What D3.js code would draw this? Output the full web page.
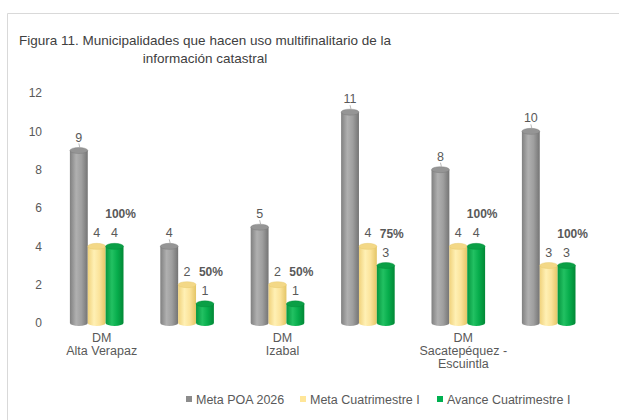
<!DOCTYPE html>
<html><head><meta charset="utf-8">
<script src="https://d3js.org/d3.v7.min.js"></script>
<style>body{margin:0;background:#fff}svg{display:block}</style>
</head><body>
<script>
const categories = ["DM Alta Verapaz", "g2", "DM Izabal", "g4", "DM Sacatepéquez - Escuintla", "g6"];
const categoryLabels = [["DM","Alta Verapaz"], [], ["DM","Izabal"], [], ["DM","Sacatepéquez -","Escuintla"], []];
const seriesNames = ["Meta POA 2026", "Meta Cuatrimestre I", "Avance Cuatrimestre I"];
const metaPOA = [9, 4, 5, 11, 8, 10];
const metaCuatrimestre = [4, 2, 2, 4, 4, 3];
const avanceCuatrimestre = [4, 1, 1, 3, 4, 3];
const percentLabels = ["100%", "50%", "50%", "75%", "100%", "100%"];
const yTicks = [0, 2, 4, 6, 8, 10, 12];

const W = 619, H = 420;
const FONT = "Liberation Sans, Arial, sans-serif";
const svg = d3.select("body").append("svg").attr("width", W).attr("height", H);
const defs = svg.append("defs");
const palettes = [
  {id:"gGray", stops:["#808080","#b0b0b0","#9f9f9f","#747474"], top:"#959595"},
  {id:"gYel", stops:["#f0d27c","#fff0b4","#fbe39a","#e4c566"], top:"#f3d887"},
  {id:"gGrn", stops:["#05963f","#22c162","#07ad4c","#028836"], top:"#0a9f46"}
];
palettes.forEach(p => {
  const lg = defs.append("linearGradient").attr("id", p.id).attr("x1","0").attr("x2","1").attr("y1","0").attr("y2","0");
  [0,0.35,0.65,1].forEach((o,i)=>lg.append("stop").attr("offset",o).attr("stop-color",p.stops[i]));
});

// frame
svg.append("path").attr("d","M7.5,420 V13.5 H619").attr("fill","none").attr("stroke","#d9d9d9").attr("stroke-width",1);

// title
const title = svg.append("text").attr("x",205).attr("y",45).attr("text-anchor","middle")
  .attr("font-family",FONT).attr("font-size",13.5).attr("fill","#404040");
title.append("tspan").attr("x",205).attr("dy",0).text("Figura 11. Municipalidades que hacen uso multifinalitario  de la");
title.append("tspan").attr("x",205).attr("dy",18).text("información catastral");

const x0 = d3.scaleBand().domain(categories).range([51.5, 593.9]).paddingInner(0).paddingOuter(0);
const x1 = d3.scaleBand().domain(seriesNames).range([x0.bandwidth()/2 - 26.8, x0.bandwidth()/2 + 26.8]).padding(0);
const y = d3.scaleLinear().domain([0, 12]).range([323, 93]);

// y axis
const yAxis = d3.axisLeft(y).tickValues(yTicks).tickSize(0).tickPadding(0);
const ga = svg.append("g").attr("transform","translate(42,0)").call(yAxis);
ga.select(".domain").remove();
ga.selectAll("text").attr("font-family",FONT).attr("font-size",12).attr("fill","#595959");

const seriesData = [metaPOA, metaCuatrimestre, avanceCuatrimestre];
const ry = 3;
categories.forEach((c, i) => {
  const g = svg.append("g").attr("transform", `translate(${x0(c)},0)`);
  seriesNames.forEach((s, j) => {
    const v = seriesData[j][i];
    const bx = x1(s), bw = x1.bandwidth();
    const top = y(v), base = y(0);
    const p = palettes[j];
    g.append("path")
      .attr("d", `M${bx},${top} V${base} A${bw/2},${ry} 0 0 0 ${bx+bw},${base} V${top} Z`)
      .attr("fill", `url(#${p.id})`);
    g.append("ellipse").attr("cx", bx+bw/2).attr("cy", top).attr("rx", bw/2).attr("ry", ry)
      .attr("fill", p.top).attr("stroke", p.stops[3]).attr("stroke-width", 0.4);
    g.append("text").attr("x", bx+bw/2).attr("y", top - 9).attr("text-anchor","middle")
      .attr("font-family",FONT).attr("font-size",12.5).attr("fill","#595959")
      .text(v);
    if (j === 0) {
      g.append("line").attr("x1", bx+bw/2).attr("x2", bx+bw/2+1).attr("y1", top-7).attr("y2", top-3)
        .attr("stroke","#a6a6a6").attr("stroke-width",0.8);
    }
  });
  const gx = x1(seriesNames[2]) + x1.bandwidth()/2;
  g.append("text").attr("x", gx + 6).attr("y", y(avanceCuatrimestre[i]) - 28).attr("text-anchor","middle")
    .attr("font-family",FONT).attr("font-size",12).attr("font-weight","bold").attr("fill","#595959")
    .text(percentLabels[i]);
  const lab = g.append("text").attr("x", x0.bandwidth()/2 + 5).attr("y", 342).attr("text-anchor","middle")
    .attr("font-family",FONT).attr("font-size",12.5).attr("fill","#595959");
  categoryLabels[i].forEach((t, k) => lab.append("tspan").attr("x", x0.bandwidth()/2 + 5).attr("dy", k===0?0:13).text(t));
});

// legend
const legend = svg.append("g");
const legItems = [{x:186, label:seriesNames[0], c:"#8c8c8c"},{x:300,label:seriesNames[1],c:"#ffe699"},{x:437,label:seriesNames[2],c:"#00b050"}];
legItems.forEach(it => {
  legend.append("rect").attr("x", it.x).attr("y", 396).attr("width", 6).attr("height", 6).attr("fill", it.c);
  legend.append("text").attr("x", it.x + 10).attr("y", 403.5).attr("font-family",FONT)
    .attr("font-size",12.5).attr("fill","#595959").text(it.label);
});
</script>
</body></html>
